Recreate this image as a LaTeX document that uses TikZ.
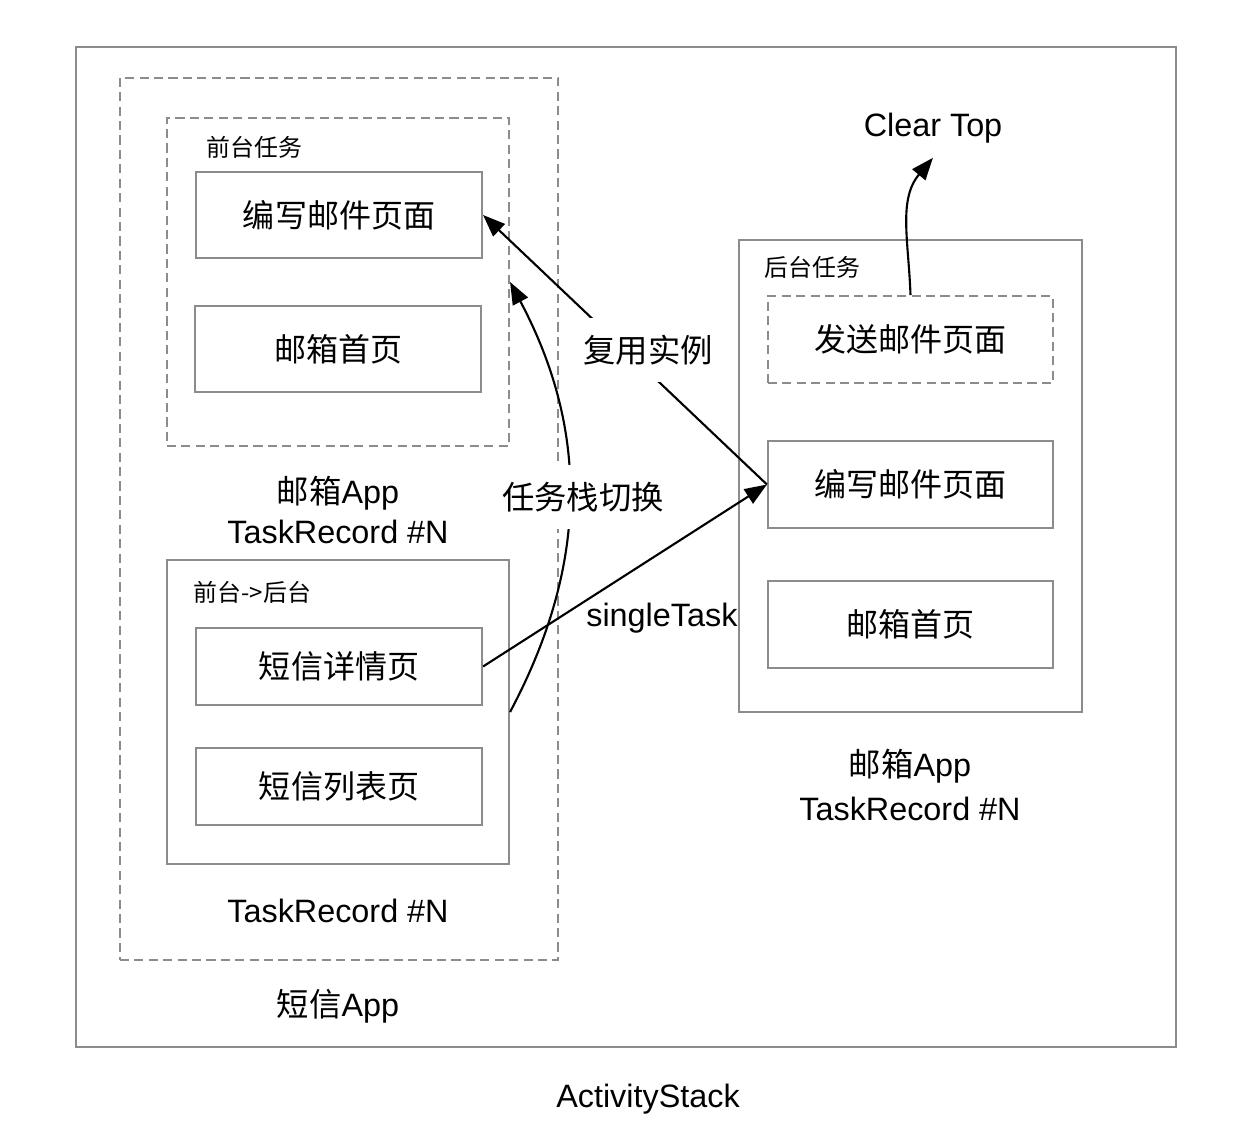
\documentclass[tikz,border=0pt]{standalone}
\usepackage{fontspec}
\setmainfont{Liberation Sans}
\newfontfamily\cjk{Noto Sans CJK SC}
\usetikzlibrary{arrows.meta}
\definecolor{boxgray}{RGB}{140,140,140}
\begin{document}
\begin{tikzpicture}[x=0.01cm, y=0.01cm,
    txt/.style={inner sep=0pt, font=\fontsize{9.2pt}{11.4pt}\selectfont},
    tag/.style={inner sep=0pt, anchor=west, font=\cjk\fontsize{6.8pt}{8pt}\selectfont},
    frame/.style={draw=boxgray, line width=0.55pt, inner sep=0pt},
    page/.style={frame, minimum width=2.86cm, minimum height=0.86cm, font=\cjk\fontsize{9.1pt}{11pt}\selectfont},
    loose/.style={dash pattern=on 2.6pt off 1.5pt},
    link/.style={line width=0.6pt, -{Triangle[length=6.3pt, width=4.8pt]}},
    gap/.style={txt, fill=white, inner xsep=1pt, inner ysep=0.17cm}]
      \useasboundingbox (0,0) rectangle (1260,-1144);

      \node[frame, minimum width=11cm, minimum height=10cm] (stack) at (626,-547) {};
      \node[frame, loose, minimum width=4.38cm, minimum height=8.82cm] (smsapp) at (339,-519) {};
      \node[frame, loose, minimum width=3.42cm, minimum height=3.28cm] (front) at (338,-282) {};
      \node[frame, minimum width=3.42cm, minimum height=3.04cm] (moved) at (338,-712) {};
      \node[frame, minimum width=3.43cm, minimum height=4.72cm] (back) at (910.5,-476) {};

      \node[tag] (frontname) at (206,-147) {前台任务};
      \node[tag] (movedname) at (193,-592) {前台->后台};
      \node[tag] (backname) at (764,-267) {后台任务};

      \node[page] (compose) at (339,-215) {编写邮件页面};
      \node[page] (inbox) at (338,-349) {邮箱首页};
      \node[page, minimum height=0.77cm] (smsdetail) at (339,-666.5) {短信详情页};
      \node[page, minimum height=0.77cm] (smslist) at (339,-786.5) {短信列表页};
      \node[page, loose, minimum width=2.85cm, minimum height=0.87cm] (sendpage) at (910.5,-339.5) {发送邮件页面};
      \node[page, minimum width=2.85cm, minimum height=0.87cm] (compose2) at (910.5,-484.5) {编写邮件页面};
      \node[page, minimum width=2.85cm, minimum height=0.87cm] (inbox2) at (910.5,-624.5) {邮箱首页};

      \node[txt, align=center] (mailtask) at (338,-510) {{\cjk 邮箱}App\\TaskRecord \#N};
      \node[txt, align=center] (mailtask2) at (910,-785) {{\cjk 邮箱}App\\[1.1pt]TaskRecord \#N};
      \node[txt] (smstask) at (338,-911) {TaskRecord \#N};
      \node[txt] (smsname) at (338,-1006) {{\cjk 短信}App};
      \node[txt] (stackname) at (648,-1099) {ActivityStack};
      \node[txt, inner ysep=0.14cm] (cleartop) at (933,-128) {Clear Top};

      \draw[link] (compose2.west) -- node[gap, pos=.5, xshift=0.23cm] (reuse) {\cjk 复用实例} (compose.east);
      \draw[link] (smsdetail.east) -- node[txt, pos=.63, yshift=-0.66cm] (single) {singleTask} (compose2.west);
      \draw[link] (moved.east) to[bend right=28] node[gap, pos=.5, xshift=0.14cm] (switch) {\cjk 任务栈切换} (front.east);
      \draw[link] (sendpage.north) to[out=92, in=-130] (cleartop.south);
    \end{tikzpicture}
\end{document}
